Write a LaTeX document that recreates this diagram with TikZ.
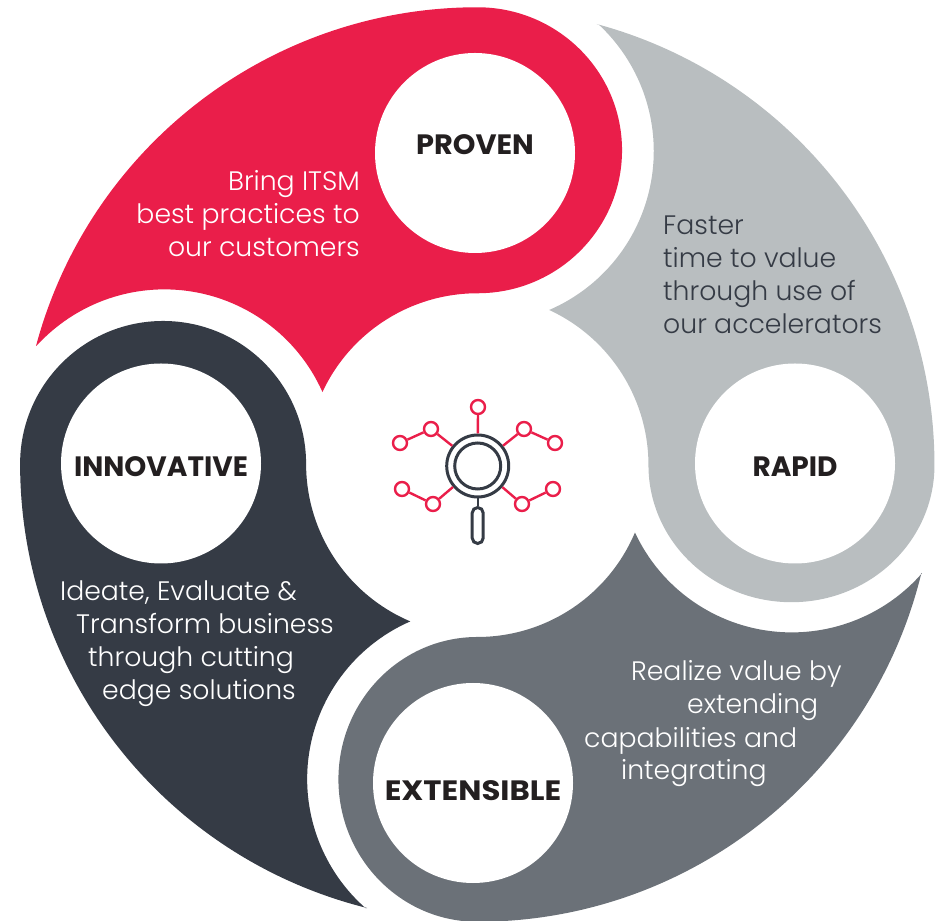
\documentclass[tikz,border=0pt]{standalone}
\usepackage{fontspec}
\setmainfont{Poppins}[UprightFont=* Light,BoldFont=* Bold]
\definecolor{petalred}{HTML}{EA1E4A}
\definecolor{petalsilver}{HTML}{B9BEC0}
\definecolor{petalslate}{HTML}{6B7178}
\definecolor{petaldark}{HTML}{353B45}
\definecolor{labelblack}{HTML}{231F20}
\begin{document}
\begin{tikzpicture}[x=1pt,y=1pt,
    disc/.style={shape=circle,fill=white,inner sep=0pt,minimum size=200pt},
    title/.style={anchor=base,text=labelblack,font=\fontsize{28}{30}\selectfont\bfseries},
    blurb/.style={text=white,inner sep=0pt,font=\fontsize{26.7}{30}\selectfont},
    iconnode/.style={shape=circle,draw=petalred,line width=2.4pt,fill=white,inner sep=0pt,minimum size=14pt},
    iconline/.style={draw=petalred,line width=2.4pt}]
    \useasboundingbox (0,0) rectangle (941,920);
    \fill[petalred] (36,574) arc[start angle=165,end angle=90,radius=457] % outer rim
    arc[start angle=90,end angle=-90,x radius=144.6,y radius=143] % round the disc
    arc[start angle=90,end angle=155,radius=171] % along the centre circle
    arc[start angle=24,end angle=137,radius=173] -- cycle; % over the next petal
    \fill[petalsilver] (596.5,896) arc[start angle=74.9,end angle=0,radius=457]
    arc[start angle=0,end angle=-180,x radius=143,y radius=137]
    arc[start angle=0,end angle=65.2,radius=171]
    arc[start angle=-66.7,end angle=47.1,radius=173] -- cycle;
    \fill[petalslate] (921.4,347) arc[start angle=-13.7,end angle=-90,radius=457]
    arc[start angle=-90,end angle=-270,x radius=139,y radius=142.4]
    arc[start angle=-90,end angle=-22.9,radius=171]
    arc[start angle=205,end angle=318.8,radius=173] -- cycle;
    \fill[petaldark] (367,12) arc[start angle=256,end angle=180,radius=457.6]
    arc[start angle=180,end angle=0,radius=143]
    arc[start angle=180,end angle=247,radius=171]
    arc[start angle=113.6,end angle=228.6,radius=172] -- cycle;
    % white discs with their titles
    \node[disc] (provendisc) at (475,767) {};
    \node[disc] (rapiddisc) at (795,456.5) {};
    \node[disc] (extensibledisc) at (473,137) {};
    \node[disc] (innovativedisc) at (161,456.5) {};
    \node[title,xscale=1.03] (proven) at (475,765) {PROVEN};
    \node[title] (rapid) at (795,443) {RAPID};
    \node[title,xscale=1.1] (extensible) at (473,119) {EXTENSIBLE};
    \node[title] (innovative) at (161,443) {INNOVATIVE};
    % petal texts, line by line
    \node[blurb,anchor=base east] (bring) at (360,729) {Bring ITSM};
    \node[blurb,anchor=base east] (best) at (360,696) {best practices to};
    \node[blurb,anchor=base east] (customers) at (360,663) {our customers};
    \node[blurb,anchor=base west,text=petaldark] (faster) at (663,685) {Faster};
    \node[blurb,anchor=base west,text=petaldark] (time) at (663,652) {time to value};
    \node[blurb,anchor=base west,text=petaldark] (through) at (663,619) {through use of};
    \node[blurb,anchor=base west,text=petaldark] (accel) at (663,586) {our accelerators};
    \node[blurb,anchor=base west] (realize) at (631,239) {Realize value by};
    \node[blurb,anchor=base west] (extending) at (687,206) {extending};
    \node[blurb,anchor=base west] (capable) at (584,172) {capabilities and};
    \node[blurb,anchor=base west] (integrating) at (621,140) {integrating};
    \node[blurb,anchor=base west] (ideate) at (60,319) {Ideate, Evaluate \&};
    \node[blurb,anchor=base west] (transform) at (76,286) {Transform business};
    \node[blurb,anchor=base west] (cutting) at (88,253) {through cutting};
    \node[blurb,anchor=base west] (edge) at (102,220) {edge solutions};
    % magnifier icon in the middle
    \node[shape=circle,draw=petaldark,line width=3pt,inner sep=0pt,minimum size=62pt] (lens) at (477.7,454) {};
    \node[shape=circle,draw=petaldark,line width=3pt,inner sep=0pt,minimum size=46pt] (glass) at (477.7,454) {};
    \node[shape=rectangle,draw=petaldark,line width=3pt,rounded corners=5.5pt,inner sep=0pt,minimum width=11pt,minimum height=36pt] (handle) at (477.7,394.5) {};
    \draw[draw=petaldark,line width=2.4pt] (lens) -- (handle);
    \node[iconnode] (top) at (478,513) {};
    \node[iconnode] (upleftnear) at (431,491) {};
    \node[iconnode] (upleftfar) at (400,477) {};
    \node[iconnode] (uprightnear) at (524,491) {};
    \node[iconnode] (uprightfar) at (555,477) {};
    \node[iconnode] (lowleftnear) at (433,416) {};
    \node[iconnode] (lowleftfar) at (402,431) {};
    \node[iconnode] (lowrightnear) at (522,416) {};
    \node[iconnode] (lowrightfar) at (553,431) {};
    \draw[iconline] (lens) -- (top);
    \draw[iconline] (lens) -- (upleftnear) -- (upleftfar);
    \draw[iconline] (lens) -- (uprightnear) -- (uprightfar);
    \draw[iconline] (lens) -- (lowleftnear) -- (lowleftfar);
    \draw[iconline] (lens) -- (lowrightnear) -- (lowrightfar);
\end{tikzpicture}
\end{document}
